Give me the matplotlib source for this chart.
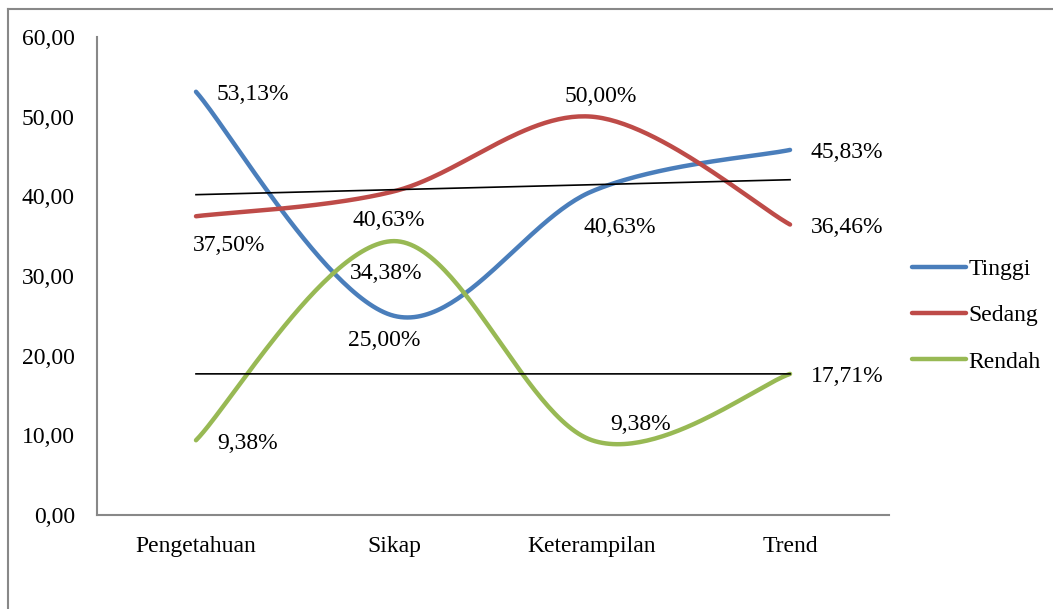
import numpy as np
import matplotlib.pyplot as plt
from matplotlib.lines import Line2D

kategori = ['Pengetahuan', 'Sikap', 'Keterampilan', 'Trend']
tinggi = [53.13, 25.00, 40.63, 45.83]
sedang = [37.50, 40.63, 50.00, 36.46]
rendah = [9.38, 34.38, 9.38, 17.71]

plt.rcParams['font.family'] = ['Liberation Serif', 'DejaVu Serif']
FS = 17


def smooth(x, y, n=60):
    # kurva halus ala Excel (Catmull-Rom)
    x = np.asarray(x, float)
    y = np.asarray(y, float)
    px = np.concatenate([[x[0]], x, [x[-1]]])
    py = np.concatenate([[y[0]], y, [y[-1]]])
    xs, ys = [], []
    for i in range(1, len(px) - 2):
        t = np.linspace(0, 1, n)
        p0, p1, p2, p3 = px[i - 1], px[i], px[i + 1], px[i + 2]
        q0, q1, q2, q3 = py[i - 1], py[i], py[i + 1], py[i + 2]
        b1x, b1y = p1 + (p2 - p0) / 6, q1 + (q2 - q0) / 6
        b2x, b2y = p2 - (p3 - p1) / 6, q2 - (q3 - q1) / 6
        xs.append((1-t)**3*p1 + 3*(1-t)**2*t*b1x + 3*(1-t)*t**2*b2x + t**3*p2)
        ys.append((1-t)**3*q1 + 3*(1-t)**2*t*b1y + 3*(1-t)*t**2*b2y + t**3*q2)
    return np.concatenate(xs), np.concatenate(ys)


fig = plt.figure(figsize=(10.53, 6.09), dpi=100)
ax = fig.add_axes([0.0921, 0.1544, 0.7522, 0.7848])

x = np.arange(1, len(kategori) + 1)
seri = [('Tinggi', tinggi, '#4A7EBB'), ('Sedang', sedang, '#BE4B48'), ('Rendah', rendah, '#98B954')]
for nama, data, warna in seri:
    sx, sy = smooth(x, data)
    ax.plot(sx, sy, color=warna, lw=3.2, solid_capstyle='round', label=nama)

# garis trend linear (Sedang dan Rendah)
for data in [sedang, rendah]:
    k = np.polyfit(x, data, 1)
    ax.plot([x[0], x[-1]], np.polyval(k, [x[0], x[-1]]), color='black', lw=1.2)

# posisi label (offset piksel)
offset = {
    'Tinggi': [(57, -3), (-10, -25), (28, -36), (57, -3)],
    'Sedang': [(33, -29), (-5, -29), (9, 20), (57, -3)],
    'Rendah': [(52, -3), (-8, -32), (49, 16), (57, -3)],
}
for nama, data, warna in seri:
    for xi, v, (dx, dy) in zip(x, data, offset[nama]):
        ax.annotate(f'{v:.2f}%'.replace('.', ','), (xi, v),
                    xytext=(dx * 0.72, dy * 0.72), textcoords='offset points',
                    ha='center', va='center', fontsize=FS)

ax.set_xlim(0.5, 4.5)
ax.set_ylim(0, 60)
ax.set_yticks(np.arange(0, 61, 10))
ax.set_yticklabels([f'{v:.2f}'.replace('.', ',') for v in np.arange(0, 61, 10)])
ax.set_xticks(x)
ax.set_xticklabels(kategori)
ax.tick_params(length=0, labelsize=FS)
ax.tick_params(axis='y', pad=16)
ax.tick_params(axis='x', pad=15)
for s in ['top', 'right']:
    ax.spines[s].set_visible(False)
for s in ['left', 'bottom']:
    ax.spines[s].set_color('#888888')
    ax.spines[s].set_linewidth(1.5)

ax.legend(loc='center left', bbox_to_anchor=(0.857, 0.482), bbox_transform=fig.transFigure,
          frameon=False, fontsize=FS, handlelength=2.3, handletextpad=0.1,
          labelspacing=1.05, borderaxespad=0)

# bingkai area grafik
fig.add_artist(Line2D([8 / 1053, 1], [1 - 9 / 609, 1 - 9 / 609], color='#888888', lw=1.5))
fig.add_artist(Line2D([8 / 1053, 8 / 1053], [0, 1 - 9 / 609], color='#888888', lw=1.5))

fig.savefig('out.png', dpi=100)
